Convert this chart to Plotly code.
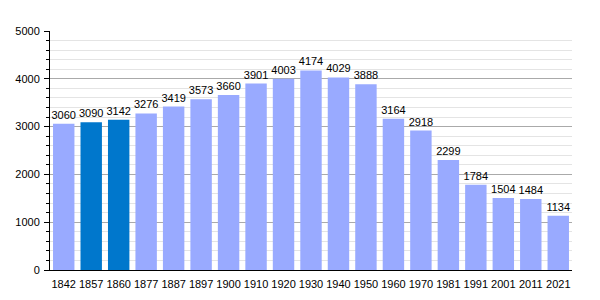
import plotly.graph_objects as go

years = ["1842", "1857", "1860", "1877", "1887", "1897", "1900", "1910", "1920", "1930",
         "1940", "1950", "1960", "1970", "1981", "1991", "2001", "2011", "2021"]
population = [3060, 3090, 3142, 3276, 3419, 3573, 3660, 3901, 4003, 4174,
              4029, 3888, 3164, 2918, 2299, 1784, 1504, 1484, 1134]
highlight = ["1857", "1860"]

colors = ["#0077cc" if y in highlight else "#99aaff" for y in years]

fig = go.Figure(go.Bar(
    x=years, y=population,
    marker=dict(color=colors, line=dict(width=0)),
    text=[str(v) for v in population],
    textposition="outside",
    constraintext="none",
    textfont=dict(size=11, color="black", family="Liberation Sans"),
    cliponaxis=False,
))

fig.update_layout(
    width=600, height=300,
    margin=dict(l=50, r=28, t=31, b=30, autoexpand=False),
    plot_bgcolor="white", paper_bgcolor="white",
    bargap=0.22,
    showlegend=False,
    font=dict(family="Liberation Sans", size=11, color="black"),
)
fig.update_xaxes(
    type="category", showline=True, linecolor="black", linewidth=1,
    ticks="", showgrid=False, tickfont=dict(size=11), ticklabelstandoff=4,
    automargin=False,
)
fig.update_yaxes(
    range=[0, 5000], dtick=1000, showline=True, linecolor="black", linewidth=1,
    ticks="outside", ticklen=5, tickcolor="black",
    showgrid=True, gridcolor="#aaaaaa", gridwidth=1,
    zeroline=False, tickfont=dict(size=11), ticklabelstandoff=2,
    automargin=False,
    minor=dict(dtick=200, showgrid=True, gridcolor="#e4e4e4", ticks="outside",
               ticklen=3, tickcolor="black"),
)

fig.write_html("out.html")
